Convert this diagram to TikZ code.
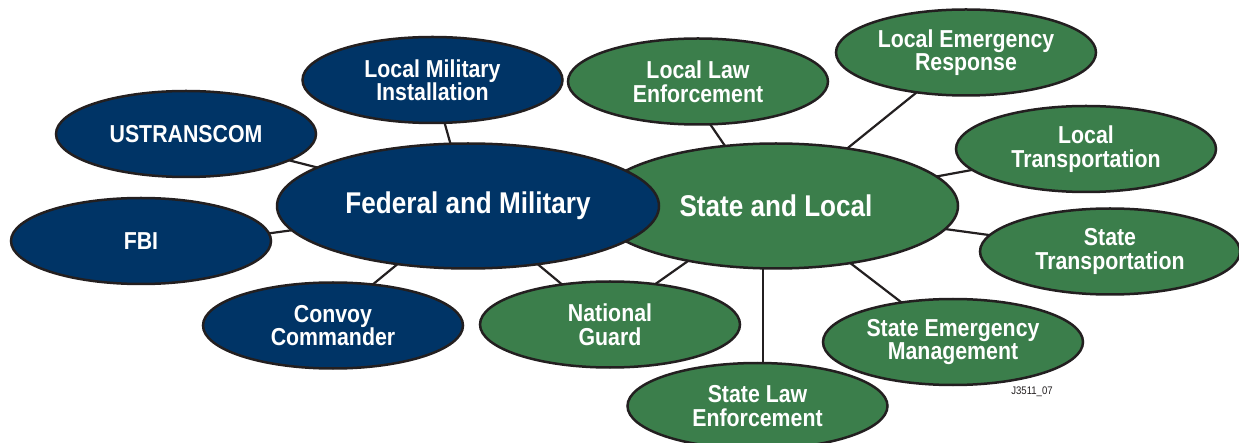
\documentclass[tikz,border=0pt]{standalone}
\usepackage{fontspec}
\setmainfont[FakeStretch=0.87]{Liberation Sans}
\usetikzlibrary{shapes.geometric}
\definecolor{navy}{RGB}{0,52,102}
\definecolor{leaf}{RGB}{59,126,75}
\definecolor{rim}{RGB}{35,31,32}
\pgfdeclarelayer{bg}
\pgfsetlayers{bg,main}
\tikzset{
  bubble/.style={ellipse, draw=rim, line width=2.5pt, inner sep=0pt, text=white, align=center,
    minimum width=260pt, minimum height=86pt, font={\fontsize{24.5}{23.5}\selectfont\bfseries}},
  fedb/.style={bubble, fill=navy},
  stb/.style={bubble, fill=leaf},
  bigb/.style={font={\fontsize{30}{30}\selectfont\bfseries}, minimum height=125pt},
  link/.style={draw=rim, line width=2.2pt}
}
\begin{document}
\begin{tikzpicture}[x=1pt, y=-1pt]
\useasboundingbox (0,0) rectangle (1239,443);
% main ellipses
\node[stb, bigb, minimum width=364pt] (state) at (776,206) {State and Local};
\node[fedb, bigb, minimum width=382pt] (fed) at (468,206) {Federal and Military};
% federal side
\node[fedb] (ustc) at (186,134) {USTRANSCOM};
\node[fedb] (fbi) at (141,241) {FBI};
\node[fedb] (lmi) at (432.5,80) {Local Military\\Installation};
\node[fedb] (convoy) at (333,325.5) {Convoy\\Commander};
% state side
\node[stb] (ng) at (610,324.5) {National\\Guard};
\node[stb] (lle) at (698,81.5) {Local Law\\Enforcement};
\node[stb] (ler) at (966,52.5) {Local Emergency\\Response};
\node[stb] (lt) at (1086,149) {Local\\Transportation};
\node[stb] (st) at (1110,251.5) {State\\Transportation};
\node[stb] (sem) at (953,342) {State Emergency\\Management};
\node[stb] (sle) at (757.5,406) {State Law\\Enforcement};
\node[text=rim, font={\fontsize{11}{13}\selectfont}] (jnum) at (1032,392) {J3511\_07};
% connectors
\begin{pgfonlayer}{bg}
\fill[white] (0,0) rectangle (1239,443);
\draw[link] (ustc.center) -- (fed.center);
\draw[link] ([yshift=-10pt]fbi.center) -- (fed.center);
\draw[link] (lmi.center) -- (fed.center);
\draw[link] ([xshift=-10pt]convoy.center) -- (fed.center);
\draw[link] (ng.center) -- (fed.center);
\draw[link] ([xshift=-12pt]ng.center) -- ([xshift=-10pt]state.center);
\draw[link] ([xshift=-17pt]lle.center) -- ([xshift=-10pt]state.center);
\draw[link] (ler.center) -- (state.center);
\draw[link] (lt.center) -- (state.center);
\draw[link] (st.center) -- (state.center);
\draw[link] (sem.center) -- (state.center);
\draw[link] ([xshift=5.5pt]sle.center) -- ([xshift=5.5pt]sle.center |- state.center);
\end{pgfonlayer}
\end{tikzpicture}
\end{document}
